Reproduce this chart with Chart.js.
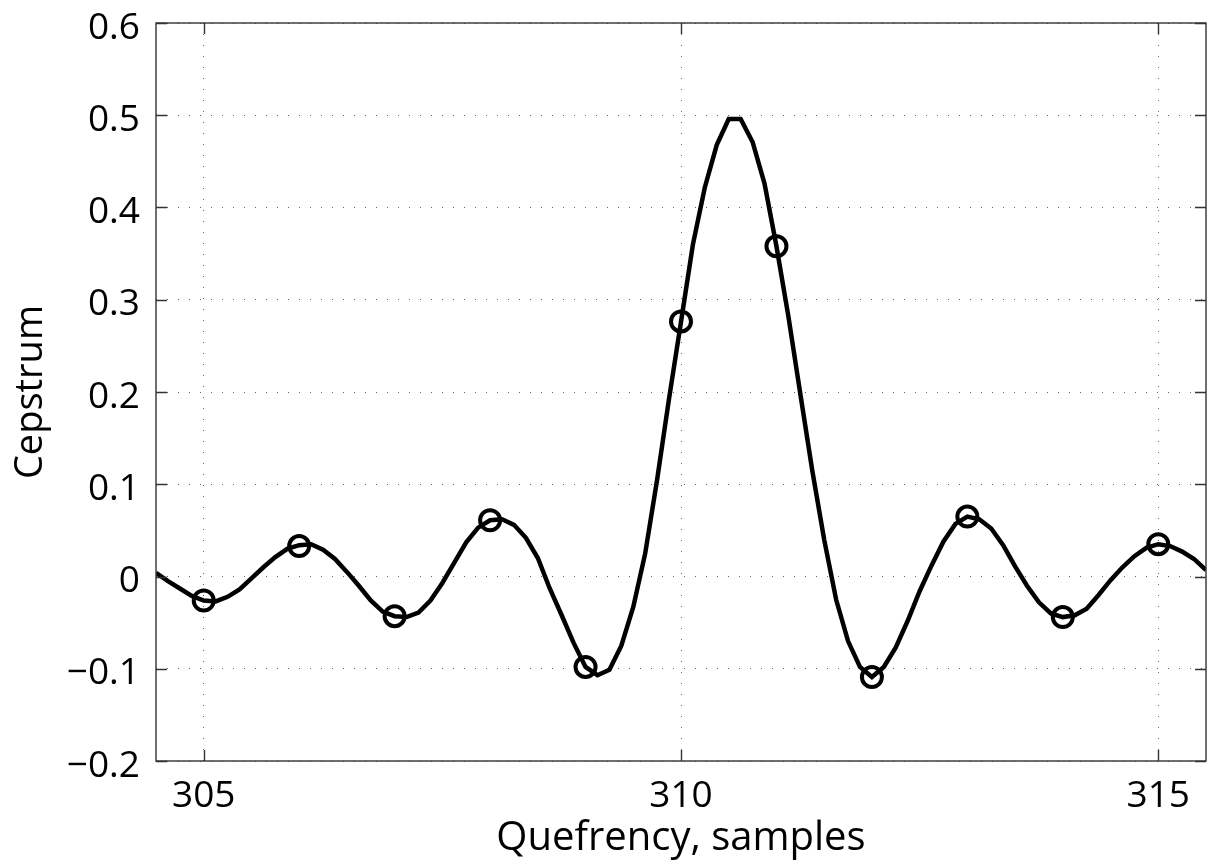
<!DOCTYPE html>
<html><head><meta charset="utf-8">
<script src="https://cdn.jsdelivr.net/npm/chart.js@4.4.1/dist/chart.umd.min.js"></script>
<style>html,body{margin:0;padding:0;background:#fff;overflow:hidden}</style>
</head><body>
<canvas id="c" width="1211" height="863" style="width:1211px;height:863px;display:block"></canvas>
<script>
// ---- data ----
const curveX = [
 304.5,304.625,304.75,304.875,305,305.125,305.25,305.375,305.5,305.625,305.75,305.875,
 306,306.125,306.25,306.375,306.5,306.625,306.75,306.875,
 307,307.125,307.25,307.375,307.5,307.625,307.75,307.875,
 308,308.125,308.25,308.375,308.5,308.625,308.75,308.875,
 309,309.125,309.25,309.375,309.5,309.625,309.75,309.875,
 310,310.125,310.25,310.375,310.5,310.625,310.75,310.875,
 311,311.125,311.25,311.375,311.5,311.625,311.75,311.875,
 312,312.125,312.25,312.375,312.5,312.625,312.75,312.875,
 313,313.125,313.25,313.375,313.5,313.625,313.75,313.875,
 314,314.125,314.25,314.375,314.5,314.625,314.75,314.875,
 315,315.125,315.25,315.375,315.5];
const curveY = [
 0.004,-0.005,-0.013,-0.021,-0.026,-0.027,-0.022,-0.014,-0.002,0.010,0.021,0.030,
 0.034,0.035,0.029,0.019,0.005,-0.010,-0.026,-0.038,
 -0.043,-0.044,-0.039,-0.026,-0.007,0.015,0.037,0.053,
 0.061,0.062,0.056,0.042,0.020,-0.013,-0.042,-0.072,
 -0.098,-0.107,-0.101,-0.075,-0.033,0.025,0.105,0.193,
 0.276,0.360,0.422,0.468,0.496,0.496,0.471,0.426,
 0.358,0.282,0.198,0.115,0.040,-0.025,-0.070,-0.098,
 -0.109,-0.098,-0.077,-0.048,-0.016,0.012,0.038,0.057,
 0.065,0.062,0.052,0.034,0.011,-0.010,-0.028,-0.040,
 -0.044,-0.042,-0.035,-0.020,-0.004,0.010,0.022,0.031,
 0.035,0.033,0.027,0.019,0.007];
const sampleX = [305,306,307,308,309,310,311,312,313,314,315];
const sampleY = [-0.026,0.033,-0.043,0.061,-0.098,0.2765,0.358,-0.109,0.065,-0.044,0.035];
const xTickValues = [305,310,315];
const xTickLabels = ['305','310','315'];
const yTickValues = [-0.2,-0.1,0,0.1,0.2,0.3,0.4,0.5,0.6];
const yTickLabels = ['\u22120.2','\u22120.1','0','0.1','0.2','0.3','0.4','0.5','0.6'];
const xTitle = 'Quefrency, samples';
const yTitle = 'Cepstrum';

const FONT = "'Open Sans', 'DejaVu Sans', sans-serif";

const framePlugin = {
  id: 'frame',
  afterDraw(chart) {
    const {ctx, chartArea: a, scales: {x, y}} = chart;
    ctx.save();
    ctx.strokeStyle = '#333';
    ctx.lineWidth = 1.4;
    ctx.setLineDash([]);
    ctx.strokeRect(a.left, a.top, a.right - a.left, a.bottom - a.top);
    const L = 11;
    ctx.beginPath();
    y.ticks.forEach(t => {
      const py = Math.round(y.getPixelForValue(t.value)) + 0.5;
      ctx.moveTo(a.left, py); ctx.lineTo(a.left + L, py);
      ctx.moveTo(a.right, py); ctx.lineTo(a.right - L, py);
    });
    x.ticks.forEach(t => {
      const px = Math.round(x.getPixelForValue(t.value)) + 0.5;
      ctx.moveTo(px, a.bottom); ctx.lineTo(px, a.bottom - L);
      ctx.moveTo(px, a.top); ctx.lineTo(px, a.top + L);
    });
    ctx.stroke();
    ctx.restore();
  }
};

new Chart(document.getElementById('c'), {
  type: 'line',
  data: {
    datasets: [
      {
        data: curveX.map((v, i) => ({x: v, y: curveY[i]})),
        borderColor: '#000', borderWidth: 4.5, pointRadius: 0, tension: 0,
        borderJoinStyle: 'miter', borderCapStyle: 'butt', fill: false
      },
      {
        data: sampleX.map((v, i) => ({x: v, y: sampleY[i]})),
        showLine: false, pointRadius: 10, pointBorderWidth: 4,
        pointBorderColor: '#000', pointBackgroundColor: 'rgba(0,0,0,0)',
        borderColor: '#000', pointHoverRadius: 10
      }
    ]
  },
  options: {
    responsive: false,
    animation: false,
    devicePixelRatio: 1,
    layout: {autoPadding: false, padding: {left: 8, top: 23, right: 5, bottom: 0}},
    plugins: {legend: {display: false}, tooltip: {enabled: false}},
    scales: {
      x: {
        type: 'linear', min: 304.5, max: 315.5,
        afterBuildTicks: s => { s.ticks = xTickValues.map(v => ({value: v})); },
        afterFit: s => { s.height = 102; s.paddingLeft = 0; s.paddingRight = 0; },
        ticks: {
          callback: (v, i) => xTickLabels[i],
          color: '#000', padding: 13, maxRotation: 0, autoSkip: false,
          font: {family: FONT, size: 37}
        },
        grid: {color: '#666', lineWidth: 1, drawTicks: false},
        border: {display: false, dash: [1, 10]},
        title: {display: true, text: xTitle, color: '#000', font: {family: FONT, size: 40}, padding: 0}
      },
      y: {
        type: 'linear', min: -0.2, max: 0.6,
        afterBuildTicks: s => { s.ticks = yTickValues.map(v => ({value: v})); },
        afterFit: s => { s.width = 148; s.paddingTop = 0; s.paddingBottom = 0; },
        ticks: {
          callback: (v, i) => yTickLabels[i],
          color: '#000', padding: 16, labelOffset: 5, autoSkip: false,
          font: {family: FONT, size: 37}
        },
        grid: {color: '#666', lineWidth: 1, drawTicks: false},
        border: {display: false, dash: [1, 10]},
        title: {display: true, text: yTitle, color: '#000', font: {family: FONT, size: 38}, padding: 0}
      }
    }
  },
  plugins: [framePlugin]
});
</script>
</body></html>
